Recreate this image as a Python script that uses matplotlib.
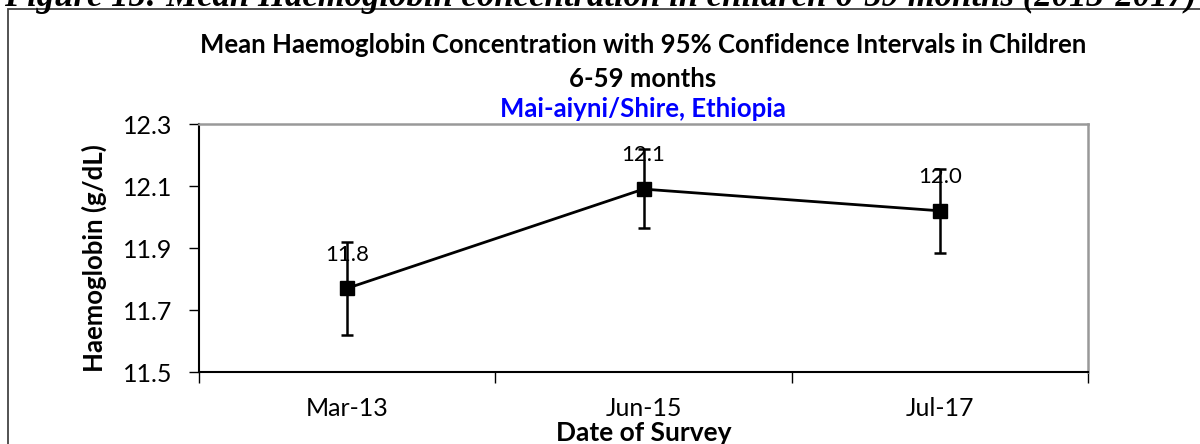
import matplotlib
matplotlib.use("Agg")
import matplotlib.pyplot as plt
from matplotlib.patches import Rectangle

# Survey rounds and mean haemoglobin with 95% CI bounds
surveys = ["Mar-13", "Jun-15", "Jul-17"]
mean_hb = [11.77, 12.09, 12.02]
ci_low = [11.62, 11.965, 11.885]
ci_high = [11.92, 12.22, 12.155]
value_labels = ["11.8", "12.1", "12.0"]
y_ticks = [11.5, 11.7, 11.9, 12.1, 12.3]

plt.rcParams["font.family"] = ["Lato", "DejaVu Sans"]

W, H = 1200, 444
fig = plt.figure(figsize=(W / 100, H / 100), dpi=100)

# Caption sitting above the chart frame (partly clipped by the page edge)
fig.text(0.5, 1.0 - 6 / H, "Figure 15: Mean Haemoglobin concentration in children 6-59 months (2013-2017)",
         ha="center", va="baseline", fontsize=25, fontweight="bold", style="italic",
         family=["Liberation Serif", "DejaVu Serif"], color="black")

# Chart frame
fig.patches.append(Rectangle((8 / W, -0.05), 1.2, 1.0 - 9.5 / H + 0.05,
                             transform=fig.transFigure, fill=False,
                             edgecolor="#444444", linewidth=1.3))

ax = fig.add_axes([199 / W, 1 - 372 / H, (1088 - 199) / W, (372 - 124) / H])

x = list(range(len(surveys)))
yerr = [[m - lo for m, lo in zip(mean_hb, ci_low)],
        [hi - m for m, hi in zip(mean_hb, ci_high)]]
ax.errorbar(x, mean_hb, yerr=yerr, color="black", linewidth=2, elinewidth=1.8,
            capsize=4.5, capthick=1.8, marker="s", markersize=10,
            markerfacecolor="black", markeredgecolor="black")

for xi, m, lab in zip(x, mean_hb, value_labels):
    ax.annotate(lab, (xi, m), xytext=(0, 17), textcoords="offset points",
                ha="center", va="bottom", fontsize=16, color="black")

ax.set_xlim(-0.5, len(surveys) - 0.5)
ax.set_ylim(y_ticks[0], y_ticks[-1])
ax.set_yticks(y_ticks)
ax.set_yticklabels([f"{t:.1f}" for t in y_ticks], fontsize=18)

ax.set_xticks([i - 0.5 for i in range(len(surveys) + 1)])
ax.set_xticklabels([])
ax.set_xticks(x, minor=True)
ax.set_xticklabels(surveys, minor=True, fontsize=18)
ax.tick_params(axis="x", which="minor", length=0, pad=18)
ax.tick_params(axis="x", which="major", length=8, width=1, direction="out")
ax.tick_params(axis="y", length=7, width=1, direction="out", pad=12)

for side in ("top", "right"):
    ax.spines[side].set_color("#999999")
    ax.spines[side].set_linewidth(1.8)
for side in ("left", "bottom"):
    ax.spines[side].set_color("black")
    ax.spines[side].set_linewidth(1.5)

ax.set_ylabel("Haemoglobin (g/dL)", fontsize=18.5, fontweight="bold")
ax.yaxis.set_label_coords((94 - 199) / (1088 - 199), (372 - 258) / (372 - 124))
ax.yaxis.label.set_va("center")
ax.set_xlabel("Date of Survey", fontsize=19, fontweight="bold")
ax.xaxis.set_label_coords(0.5, (372 - 433) / (372 - 124))
ax.xaxis.label.set_va("center")

fig.text(643 / W, 1 - 53 / H, "Mean Haemoglobin Concentration with 95% Confidence Intervals in Children",
         ha="center", va="baseline", fontsize=18.5, fontweight="bold")
fig.text(643 / W, 1 - 87 / H, "6-59 months", ha="center", va="baseline",
         fontsize=18.5, fontweight="bold")
fig.text(643 / W, 1 - 117 / H, "Mai-aiyni/Shire, Ethiopia", ha="center", va="baseline",
         fontsize=18.5, fontweight="bold", color="#0000ff")

fig.savefig("out.png", dpi=100)
